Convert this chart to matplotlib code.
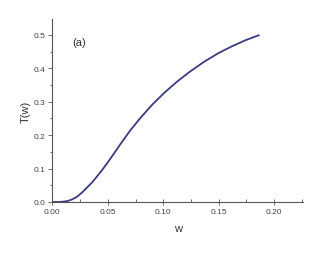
import matplotlib
matplotlib.use("Agg")
import matplotlib.pyplot as plt
from matplotlib.ticker import MultipleLocator

plt.rcParams['font.family'] = ['Liberation Sans', 'DejaVu Sans']

# curve T(w)
w = [0.0, 0.006, 0.010, 0.014, 0.018, 0.022, 0.027, 0.036, 0.045, 0.052,
     0.062, 0.070, 0.079, 0.090, 0.101, 0.112, 0.124, 0.137, 0.150, 0.162,
     0.174, 0.186]
T = [0.0, 0.0, 0.001, 0.003, 0.008, 0.015, 0.029, 0.059, 0.096, 0.128,
     0.176, 0.213, 0.250, 0.291, 0.327, 0.359, 0.390, 0.420, 0.446, 0.466,
     0.484, 0.499]

x_ticks = [0.00, 0.05, 0.10, 0.15, 0.20]
y_ticks = [0.0, 0.1, 0.2, 0.3, 0.4, 0.5]

fig = plt.figure(figsize=(3.22, 2.55), dpi=100)
ax = fig.add_axes([0.1625, 0.204, 0.7785, 0.718])

ax.plot(w, T, color='#3b3b80', linewidth=1.3, solid_joinstyle='round')

ax.set_xlim(0, 0.226)
ax.set_ylim(0, 0.548)
ax.set_xticks(x_ticks)
ax.set_xticklabels([f"{v:.2f}" for v in x_ticks])
ax.set_yticks(y_ticks)
ax.set_yticklabels([f"{v:.1f}" for v in y_ticks])
ax.xaxis.set_minor_locator(MultipleLocator(0.025))
ax.yaxis.set_minor_locator(MultipleLocator(0.05))

for side in ('top', 'right'):
    ax.spines[side].set_visible(False)
for side in ('left', 'bottom'):
    ax.spines[side].set_color('#555555')
    ax.spines[side].set_linewidth(0.8)

ax.tick_params(axis='x', which='major', direction='inout', length=4, width=0.6,
               colors='#555555', labelsize=6, labelcolor='#444444', pad=2)
ax.tick_params(axis='x', which='minor', direction='in', length=2, width=0.6, colors='#555555')
ax.tick_params(axis='y', which='major', direction='out', length=3, width=0.6,
               colors='#555555', labelsize=6, labelcolor='#444444', pad=2)
ax.tick_params(axis='y', which='minor', direction='out', length=1.5, width=0.6, colors='#555555')

ax.set_xlabel('w', fontsize=8, color='#333333', labelpad=6)
ax.set_ylabel('T(w)', fontsize=8, color='#333333', labelpad=2)

ax.text(0.018, 0.478, '(a)', fontsize=8, color='#333333', va='center', ha='left')

fig.savefig('out.png', dpi=100)
